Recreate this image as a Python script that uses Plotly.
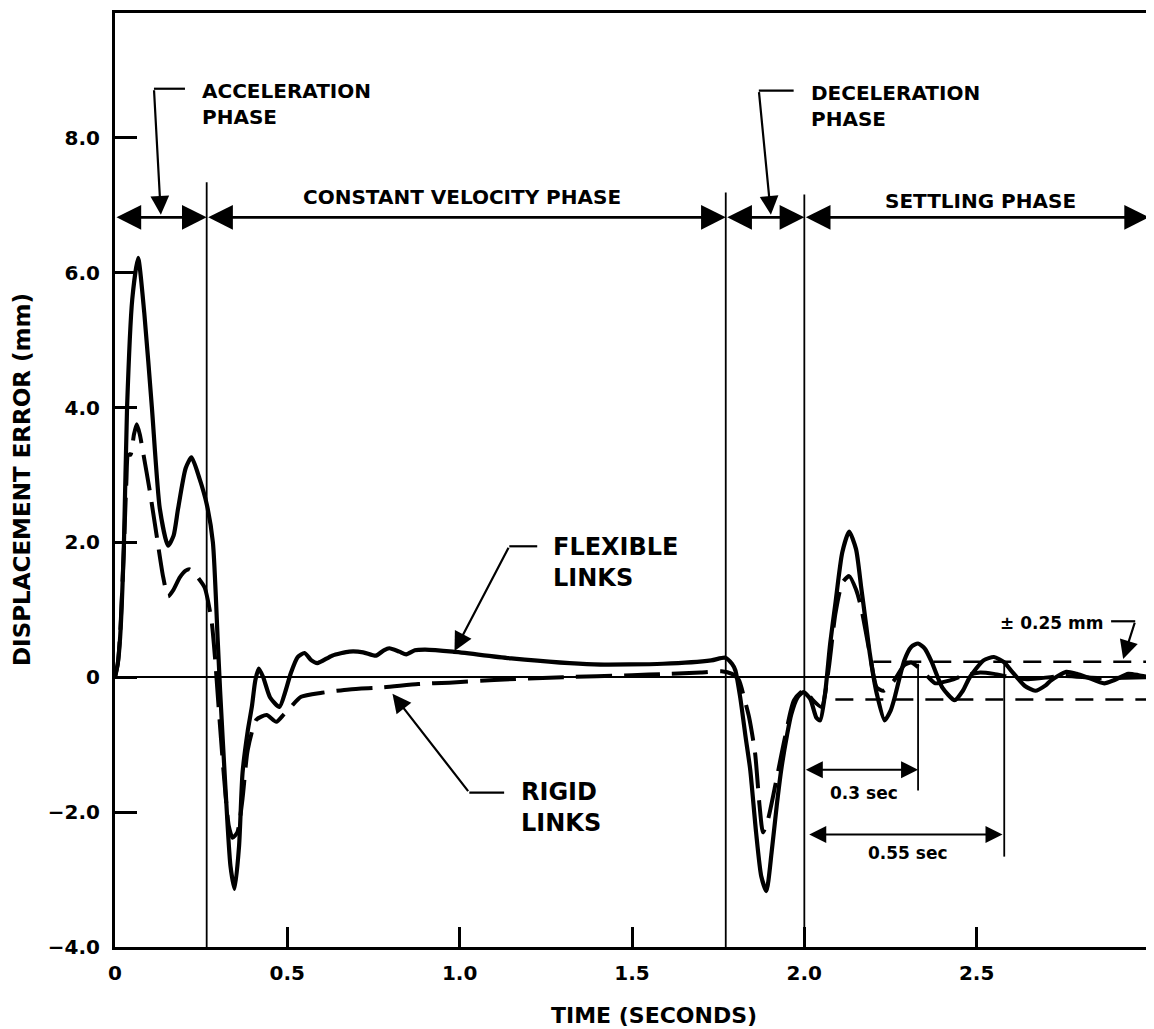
import plotly.graph_objects as go

# ---------------- data ----------------
flex_t = [0.0, 0.008, 0.015, 0.026, 0.035, 0.05, 0.067, 0.085, 0.107, 0.13, 0.154, 0.17, 0.183,
          0.205, 0.222, 0.245, 0.266, 0.284, 0.298, 0.305, 0.32, 0.335, 0.347, 0.36, 0.37, 0.385,
          0.397, 0.407, 0.417, 0.43, 0.45, 0.477, 0.495, 0.51, 0.53, 0.55, 0.57, 0.587, 0.63, 0.68,
          0.72, 0.757, 0.78, 0.796, 0.825, 0.845, 0.87, 0.90, 0.98, 1.15, 1.39, 1.59, 1.73, 1.77,
          1.79, 1.80, 1.814, 1.83, 1.843, 1.86, 1.875, 1.89, 1.905, 1.92, 1.933, 1.95, 1.962, 1.98,
          1.997, 2.017, 2.035, 2.046, 2.06, 2.075, 2.09, 2.11, 2.13, 2.15, 2.165, 2.18, 2.19, 2.21,
          2.233, 2.25, 2.26, 2.29, 2.31, 2.33, 2.35, 2.37, 2.40, 2.436, 2.46, 2.48, 2.52, 2.55, 2.58,
          2.60, 2.64, 2.67, 2.70, 2.715, 2.76, 2.79, 2.82, 2.87, 2.90, 2.94, 2.97, 3.0]
flex_err = [0.0, 0.2, 0.6, 2.0, 4.0, 5.6, 6.22, 5.4, 4.0, 2.5, 1.95, 2.1, 2.5,
            3.1, 3.26, 2.95, 2.57, 2.0, 0.55, -0.2, -1.6, -2.8, -3.14, -2.5, -1.42, -0.8,
            -0.44, -0.05, 0.13, 0.0, -0.3, -0.44, -0.2, 0.06, 0.3, 0.36, 0.25, 0.21, 0.32, 0.38,
            0.37, 0.32, 0.4, 0.43, 0.38, 0.34, 0.4, 0.41, 0.38, 0.28, 0.19, 0.2, 0.25, 0.29,
            0.2, 0.1, -0.3, -0.9, -1.37, -2.3, -2.95, -3.17, -2.6, -1.9, -1.37, -0.85, -0.55, -0.3,
            -0.22, -0.32, -0.6, -0.64, -0.25, 0.5, 1.09, 1.85, 2.16, 1.9, 1.33, 0.75, 0.35, -0.24,
            -0.64, -0.5, -0.34, 0.25, 0.45, 0.5, 0.42, 0.22, -0.15, -0.34, -0.2, 0.0, 0.25, 0.3, 0.22,
            0.1, -0.13, -0.2, -0.12, -0.05, 0.08, 0.05, 0.0, -0.09, -0.04, 0.05, 0.03, 0.0]

rigid_t = [0.0, 0.008, 0.015, 0.025, 0.033, 0.038, 0.045, 0.055, 0.063, 0.072, 0.081, 0.101, 0.12,
           0.14, 0.154, 0.17, 0.188, 0.205, 0.217, 0.237, 0.26, 0.28, 0.29, 0.30, 0.315, 0.33, 0.341,
           0.355, 0.37, 0.385, 0.41, 0.44, 0.468, 0.49, 0.51, 0.54, 0.60, 0.68, 0.78, 0.88, 0.97,
           1.1, 1.3, 1.5, 1.6, 1.7, 1.76, 1.79, 1.81, 1.825, 1.84, 1.857, 1.87, 1.88, 1.895, 1.915,
           1.944, 1.97, 2.0, 2.025, 2.05, 2.07, 2.09, 2.11, 2.13, 2.15, 2.165, 2.19, 2.21, 2.23,
           2.26, 2.29, 2.31, 2.33, 2.36, 2.38, 2.42, 2.46, 2.51, 2.55, 2.6, 2.65, 2.75, 2.85, 3.0]
rigid_err = [0.0, 0.2, 0.65, 1.8, 2.9, 3.3, 3.3, 3.6, 3.75, 3.6, 3.35, 2.76, 2.13,
             1.48, 1.2, 1.3, 1.48, 1.58, 1.6, 1.5, 1.33, 0.84, 0.3, -0.4, -1.4, -2.2, -2.38,
             -2.3, -1.8, -1.08, -0.63, -0.56, -0.66, -0.55, -0.44, -0.29, -0.23, -0.18, -0.15, -0.1, -0.08,
             -0.04, 0.0, 0.03, 0.05, 0.07, 0.09, 0.05, -0.04, -0.3, -0.6, -1.12, -1.9, -2.3, -2.1, -1.62,
             -0.89, -0.34, -0.19, -0.34, -0.44, 0.1, 0.94, 1.4, 1.5, 1.3, 1.03, 0.35, -0.15, -0.2,
             -0.05, 0.18, 0.22, 0.15, 0.0, -0.09, -0.05, 0.02, 0.07, 0.05, 0.0, -0.03, 0.02, -0.01, 0.0]

x_ticks = [0, 0.5, 1.0, 1.5, 2.0, 2.5]
x_tick_labels = ["0", "0.5", "1.0", "1.5", "2.0", "2.5"]
y_ticks = [-4, -2, 0, 2, 4, 6, 8]
y_tick_labels = ["\u22124.0", "\u22122.0", "0", "2.0", "4.0", "6.0", "8.0"]

phase_bounds = [0.0, 0.266, 1.772, 2.0, 3.0]
phase_line_tops = [7.34, 7.19, 7.16]
phase_arrow_y = 6.82
phase_names = ["CONSTANT VELOCITY PHASE", "SETTLING PHASE"]
tol_upper, tol_lower = 0.23, -0.33
settle_03, settle_055 = 2.33, 2.58

# ---------------- figure ----------------
FONT = "DejaVu Sans"
fig = go.Figure()

fig.add_trace(go.Scatter(x=rigid_t, y=rigid_err, mode="lines", name="Rigid links",
                         line=dict(color="black", width=4, dash="36px,12px", shape="spline", smoothing=0.6)))
fig.add_trace(go.Scatter(x=flex_t, y=flex_err, mode="lines", name="Flexible links",
                         line=dict(color="black", width=4.2, shape="spline", smoothing=0.6)))

shapes = []
# phase boundary verticals
for xb, top in zip(phase_bounds[1:4], phase_line_tops):
    shapes.append(dict(type="line", x0=xb, x1=xb, y0=-4, y1=top, xref="x", yref="y",
                       line=dict(color="black", width=1.8)))
# tolerance band
shapes.append(dict(type="line", x0=2.2, x1=3.0, y0=tol_upper, y1=tol_upper,
                   line=dict(color="black", width=2.5, dash="18px,12px")))
shapes.append(dict(type="line", x0=2.09, x1=3.0, y0=tol_lower, y1=tol_lower,
                   line=dict(color="black", width=2.5, dash="18px,12px")))
# settling time verticals
shapes.append(dict(type="line", x0=settle_03, x1=settle_03, y0=0.2, y1=-1.68,
                   line=dict(color="black", width=1.8)))
shapes.append(dict(type="line", x0=settle_055, x1=settle_055, y0=0.25, y1=-2.66,
                   line=dict(color="black", width=1.8)))
# callout horizontal stubs
for (xa, xb, yv) in [(0.113, 0.203, 8.727), (1.868, 1.969, 8.70), (1.144, 1.225, 1.942),
                     (1.028, 1.129, -1.71), (2.89, 2.96, 0.83)]:
    shapes.append(dict(type="line", x0=xa, x1=xb, y0=yv, y1=yv, line=dict(color="black", width=2.2)))

annotations = []

def arrow(x, y, ax, ay, both=False, width=2.2, size=1.7):
    annotations.append(dict(x=x, y=y, ax=ax, ay=ay, xref="x", yref="y", axref="x", ayref="y",
                            text="", showarrow=True, arrowhead=2, arrowsize=size, arrowwidth=width,
                            arrowcolor="black", arrowside="end+start" if both else "end"))

# phase double arrows
for a, b in zip(phase_bounds[:-1], phase_bounds[1:]):
    arrow(b, phase_arrow_y, a, phase_arrow_y, both=True, width=2.6, size=1.9)
# callout arrows
arrow(0.133, 6.86, 0.113, 8.727)
arrow(1.903, 6.86, 1.868, 8.70)
arrow(0.985, 0.39, 1.144, 1.942)
arrow(0.805, -0.246, 1.028, -1.71)
arrow(2.925, 0.27, 2.96, 0.83)
# settling time arrows
arrow(settle_03, -1.37, 2.0, -1.37, both=True, width=2)
arrow(settle_055 - 0.005, -2.33, 2.01, -2.33, both=True, width=2)

def label(x, y, text, size=20, xanchor="center", align="center"):
    annotations.append(dict(x=x, y=y, xref="x", yref="y", text=text, showarrow=False,
                            xanchor=xanchor, yanchor="middle", align=align,
                            font=dict(family=FONT, size=size, color="black", weight="bold")))

label(0.246, 8.505, "ACCELERATION<br>PHASE", xanchor="left", align="left")
label(2.013, 8.47, "DECELERATION<br>PHASE", xanchor="left", align="left")
label(1.008, 7.115, phase_names[0])
label(2.511, 7.06, phase_names[1])
label(1.266, 1.705, "FLEXIBLE<br>LINKS", size=24, xanchor="left", align="left")
label(1.173, -1.93, "RIGID<br>LINKS", size=24, xanchor="left", align="left")
label(2.563, 0.803, "\u00b1 0.25 mm", size=17, xanchor="left")
label(2.172, -1.72, "0.3 sec", size=17)
label(2.302, -2.61, "0.55 sec", size=17)

# axis titles
annotations.append(dict(x=1.565, y=0, xref="x", yref="paper", yshift=-68, text="TIME (SECONDS)",
                        showarrow=False, xanchor="center", yanchor="middle",
                        font=dict(family=FONT, size=22, color="black", weight="bold")))
annotations.append(dict(x=0, y=0.5, xref="paper", yref="paper", xshift=-93,
                        text="DISPLACEMENT ERROR (mm)", textangle=-90, showarrow=False,
                        xanchor="center", yanchor="middle",
                        font=dict(family=FONT, size=23, color="black", weight="bold")))

# the page body adds an 8px margin, so the figure is sized/offset to compensate
fig.update_layout(
    width=1146, height=1021,
    margin=dict(l=107, r=2, t=2, b=82),
    paper_bgcolor="white", plot_bgcolor="white",
    showlegend=False,
    shapes=shapes, annotations=annotations,
    xaxis=dict(range=[0, 3.0], tickvals=x_ticks, ticktext=x_tick_labels, ticks="inside",
               ticklen=20, tickwidth=2.5, tickcolor="black", showline=True, linewidth=3,
               linecolor="black", mirror=True, showgrid=False, zeroline=False,
               ticklabelstandoff=6,
               tickfont=dict(family=FONT, size=20, color="black", weight="bold")),
    yaxis=dict(range=[-4, 9.85], tickvals=y_ticks, ticktext=y_tick_labels, ticks="inside",
               ticklen=22, tickwidth=2.5, tickcolor="black", showline=True, linewidth=3,
               linecolor="black", mirror=True, showgrid=False, zeroline=True,
               zerolinecolor="black", zerolinewidth=2, ticklabelstandoff=8,
               tickfont=dict(family=FONT, size=20, color="black", weight="bold")),
)

fig.write_html("out.html")
